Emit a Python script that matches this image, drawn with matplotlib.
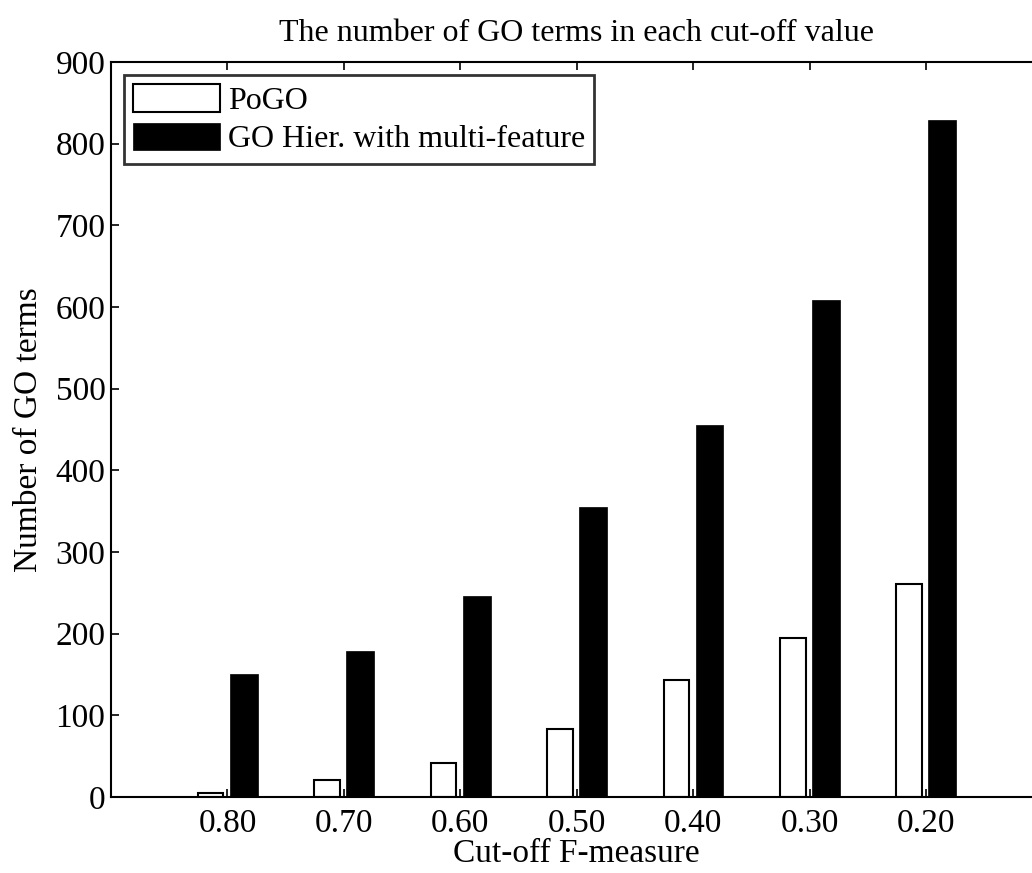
import numpy as np
import matplotlib.pyplot as plt

# values
cutoffs = ['0.80', '0.70', '0.60', '0.50', '0.40', '0.30', '0.20']
pogo = [5, 21, 42, 83, 143, 195, 261]
go_hier = [150, 179, 246, 355, 456, 609, 829]

plt.rcParams['font.family'] = ['Liberation Serif', 'DejaVu Serif']

fig = plt.figure(figsize=(10.32, 8.73), dpi=100)
# axes run past the right edge of the figure, as in the cropped original
ax = fig.add_axes([0.1076, 0.0871, 0.9026, 0.8418])

x = np.arange(1, len(cutoffs) + 1)
ax.bar(x - 0.145, pogo, width=0.22, color='white', edgecolor='black', linewidth=1.5, label='PoGO')
ax.bar(x + 0.14, go_hier, width=0.24, color='black', edgecolor='black', linewidth=0.5,
       label='GO Hier. with multi-feature')

ax.set_xlim(0, 8)
ax.set_ylim(0, 900)
ax.set_xticks(x)
ax.set_xticklabels(cutoffs)
ax.set_yticks(range(0, 901, 100))
ax.tick_params(direction='in', length=6, width=1.2, labelsize=24, top=True, right=True)
ax.tick_params(axis='x', pad=8)
ax.tick_params(axis='y', pad=4)
for s in ax.spines.values():
    s.set_linewidth(1.5)

ax.set_xlabel('Cut-off F-measure', fontsize=24, labelpad=0)
ax.set_ylabel('Number of GO terms', fontsize=24, labelpad=8)
ax.set_title('The number of GO terms in each cut-off value', fontsize=23, pad=15)

leg = ax.legend(loc='upper left', fontsize=23, frameon=True, fancybox=False, borderaxespad=0.4,
                handlelength=2.7, handleheight=0.95, borderpad=0.3, labelspacing=0.2,
                handletextpad=0.25)
leg.get_frame().set_edgecolor('black')
leg.get_frame().set_linewidth(2)

fig.savefig('out.png', dpi=100)
